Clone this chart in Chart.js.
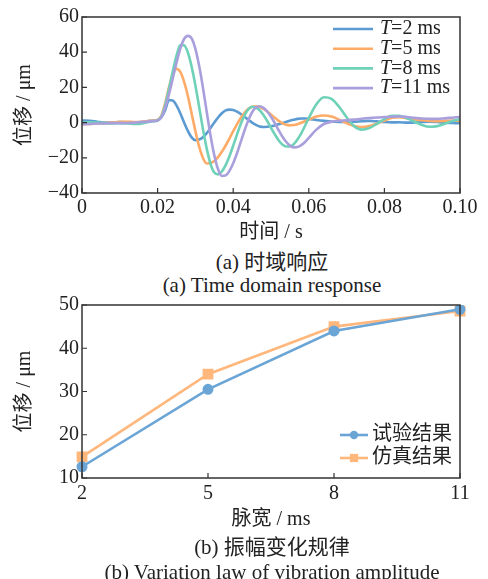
<!DOCTYPE html>
<html>
<head>
<meta charset="utf-8">
<script src="https://cdn.jsdelivr.net/npm/chart.js@4.4.0/dist/chart.umd.min.js"></script>
<style>
body{margin:0;background:#fff;width:488px;height:579px;overflow:hidden;position:relative;font-family:"Liberation Serif","Noto Sans CJK SC",serif;color:#222}
canvas{position:absolute;left:0}
.cap{position:absolute;left:0;width:544px;text-align:center;font-size:21px;line-height:24px;white-space:nowrap}
</style>
</head>
<body>
<canvas id="timeChart" width="488" height="250" style="top:0"></canvas>
<div class="cap" style="top:250px">(a) 时域响应</div>
<div class="cap" style="top:273px">(a) Time domain response</div>
<canvas id="ampChart" width="488" height="250" style="top:290px"></canvas>
<div class="cap" style="top:535px">(b) 振幅变化规律</div>
<div class="cap" style="top:560px">(b) Variation law of vibration amplitude</div>
<script>
// (a) time domain response, s / um
var timeS = [0, .002, .004, .006, .008, .010, .012, .014, .016, .018,
	.019, .020, .021, .022, .023, .024, .025, .026, .027, .028,
	.029, .030, .031, .032, .033, .034, .035, .036, .037, .038,
	.039, .040, .041, .042, .043, .044, .045, .046, .047, .048,
	.049, .050, .051, .052, .053, .054, .055, .056, .057, .058,
	.059, .060,
	.062, .064, .066, .068, .070, .072, .074, .076, .078, .080,
	.082, .084, .086, .088, .090, .092, .094, .096, .098, .100];

var dispT2 = [1.2, 1.0, 0.5, 0.0, 0.0, 0.3, 0.2, 0.0, 0.5, 1.0,
	1.2, 1.5, 3.0, 7.0, 12.8, 12.6, 9.8, 5.3, 0.1, -4.7,
	-8.4, -10.0, -9.6, -8.3, -6.0, -3.1, 0.0, 2.9, 5.3, 6.9,
	7.4, 7.1, 6.2, 4.9, 3.3, 1.6, 0.0, -1.3, -2.2, -2.5,
	-2.4, -2.1, -1.6, -1.0, -0.3, 0.4, 1.1, 1.6, 2.1, 2.3,
	2.3, 2.1,
	1.5, 1.0, 0.6, 0.4, 0.3, 0.5, 0.8, 1.0, 0.7, 0.3,
	0.1, 0.2, 0.0, 0.1, 0.4, 0.5, 0.3, 0.0, -0.2, -0.4];

var dispT5 = [-1.0, -0.8, -0.5, -0.3, 0.0, 0.5, 0.5, 0.3, 0.5, 1.0,
	1.2, 1.5, 4.0, 11.0, 20.0, 27.5, 30.5, 28.8, 23.3, 15.1,
	5.2, -4.8, -13.7, -20.1, -23.2, -23.0, -21.8, -19.6, -16.6, -13.0,
	-9.1, -4.9, -1.0, 2.6, 5.6, 7.8, 9.0, 9.3, 8.8, 7.8,
	6.3, 4.6, 2.7, 1.0, -0.3, -1.2, -1.5, -1.4, -0.9, -0.1,
	0.8, 1.7,
	3.4, 4.0, 3.4, 1.7, -0.3, -1.9, -2.5, -2.0, -0.5, 1.2,
	2.7, 3.0, 2.5, 1.8, 1.3, 1.0, 0.8, 1.0, 1.2, 1.0];

var dispT8 = [0.0, 0.2, 0.0, -0.3, -0.5, -0.3, -0.5, -0.8, -0.5, 0.5,
	0.8, 1.2, 3.5, 10.0, 19.0, 29.0, 38.0, 44.0, 43.9, 39.8,
	31.8, 21.1, 8.8, -3.7, -14.8, -23.4, -28.4, -29.4, -27.8, -24.2,
	-19.1, -13.1, -6.8, -0.8, 4.1, 7.5, 9.0, 8.6, 7.0, 4.3,
	0.9, -3.0, -6.7, -10.0, -12.4, -13.6, -13.6, -12.3, -9.6, -6.1,
	-1.8, 2.6,
	10.4, 14.4, 13.5, 9.0, 3.0, -2.0, -4.0, -3.1, -0.7, 2.0,
	3.8, 3.8, 2.5, 0.5, -1.4, -2.4, -2.0, -0.6, 0.9, 2.0];

var dispT11 = [-1.0, -0.8, -0.5, -0.5, -0.3, -0.3, -0.2, 0.0, 0.3, 0.7,
	0.9, 1.2, 3.0, 8.5, 16.0, 25.0, 34.0, 42.0, 47.5, 49.3,
	47.9, 41.9, 32.1, 19.8, 6.0, -7.3, -18.5, -26.5, -30.3, -30.0,
	-27.4, -23.1, -17.4, -11.0, -4.5, 1.3, 5.9, 8.6, 9.3, 8.4,
	6.3, 3.3, -0.3, -4.2, -7.9, -10.9, -13.1, -14.1, -13.9, -12.8,
	-11.0, -8.7,
	-4.0, -0.8, 0.5, 1.0, 1.3, 1.7, 2.2, 2.6, 2.9, 3.1,
	3.3, 3.5, 3.2, 2.7, 2.3, 2.1, 2.1, 2.4, 2.8, 3.2];

var seriesNames = ["T=2 ms", "T=5 ms", "T=8 ms", "T=11 ms"];
var seriesColors = ["#5b9bd2", "#ffab68", "#6fd2b8", "#a99fdc"];
var xTickLabels = ["0", "0.02", "0.04", "0.06", "0.08", "0.10"];

// (b) amplitude vs pulse width
var pulseWidth = ["2", "5", "8", "11"];
var testAmp = [12.6, 30.5, 44.0, 49.0];
var simAmp = [14.9, 34.0, 45.0, 48.6];

var fontFam = '"Liberation Serif", "Noto Sans CJK SC", serif';
var tickFont = {family: fontFam, size: 20};

function pts(arr) {
	return timeS.map(function(t, k) { return {x: t, y: arr[k]}; });
}

// box frame + inward ticks on bottom and left
var frameTicks = {
	id: 'frameTicks',
	afterDraw: function(chart) {
		var ctx = chart.ctx, a = chart.chartArea;
		var sx = chart.scales.x, sy = chart.scales.y;
		ctx.save();
		ctx.strokeStyle = '#333';
		ctx.lineWidth = 1.5;
		ctx.strokeRect(a.left, a.top, a.right - a.left, a.bottom - a.top);
		ctx.lineWidth = 1.2;
		ctx.beginPath();
		sx.ticks.forEach(function(t, i) {
			var px = sx.getPixelForTick(i);
			ctx.moveTo(px, a.bottom);
			ctx.lineTo(px, a.bottom - 5);
		});
		sy.ticks.forEach(function(t, i) {
			var py = sy.getPixelForTick(i);
			ctx.moveTo(a.left, py);
			ctx.lineTo(a.left + 5, py);
		});
		ctx.stroke();
		ctx.restore();
	}
};

// legend drawn inside the plot box
var boxLegend = {
	id: 'boxLegend',
	afterDraw: function(chart, args, o) {
		var ctx = chart.ctx;
		ctx.save();
		ctx.textBaseline = 'middle';
		ctx.fillStyle = '#222';
		chart.data.datasets.forEach(function(ds, i) {
			var y = o.y + i * o.row;
			ctx.strokeStyle = ds.borderColor;
			ctx.lineWidth = ds.borderWidth;
			ctx.beginPath();
			ctx.moveTo(o.x, y);
			ctx.lineTo(o.x + o.len, y);
			ctx.stroke();
			var mx = o.x + o.len / 2, r = ds.pointRadius;
			if (r) {
				ctx.fillStyle = ds.backgroundColor;
				ctx.beginPath();
				if (ds.pointStyle === 'rect') {
					var s = r * Math.SQRT1_2;
					ctx.rect(mx - s, y - s, 2 * s, 2 * s);
				} else {
					ctx.arc(mx, y, r, 0, Math.PI * 2);
				}
				ctx.fill();
				ctx.fillStyle = '#222';
			}
			var tx = o.x + o.len + o.gap, label = ds.label;
			if (o.italic && label.indexOf(o.italic) === 0) {
				ctx.font = 'italic ' + o.size + 'px ' + fontFam;
				ctx.fillText(o.italic, tx, y);
				tx += ctx.measureText(o.italic).width;
				label = label.slice(o.italic.length);
			}
			ctx.font = o.size + 'px ' + fontFam;
			ctx.fillText(label, tx, y);
		});
		ctx.restore();
	}
};

// chart a
var chart = new Chart(document.getElementById('timeChart'), {
	type: 'line',
	data: {
		datasets: [dispT2, dispT5, dispT8, dispT11].map(function(arr, i) {
			return {
				label: seriesNames[i],
				data: pts(arr),
				borderColor: seriesColors[i],
				backgroundColor: seriesColors[i],
				borderWidth: 2.6,
				order: 3 - i
			};
		})
	},
	options: {
		responsive: false,
		animation: false,
		layout: {padding: {left: 0, right: 28, top: 17, bottom: 0}},
		elements: {
			point: {radius: 0},
			line: {cubicInterpolationMode: 'monotone'}
		},
		plugins: {
			legend: {display: false},
			tooltip: {enabled: false},
			boxLegend: {x: 333, y: 29, row: 19.7, len: 40, gap: 7, size: 20, italic: 'T'}
		},
		scales: {
			x: {
				type: 'linear',
				min: 0,
				max: 0.1,
				grid: {display: false, drawTicks: false},
				border: {display: false},
				ticks: {
					stepSize: 0.02,
					padding: 3,
					maxRotation: 0,
					autoSkip: false,
					color: '#222',
					font: tickFont,
					callback: function(v, i) { return xTickLabels[i]; }
				},
				title: {display: true, text: '时间 / s', color: '#222', font: tickFont, padding: {top: 0, bottom: 5}},
				afterFit: function(s) { s.height = 57; }
			},
			y: {
				min: -40,
				max: 60,
				grid: {display: false, drawTicks: false},
				border: {display: false},
				ticks: {
					stepSize: 20,
					padding: 3,
					color: '#222',
					font: tickFont,
					callback: function(v) { return String(v).replace('-', '\u2212'); }
				},
				title: {display: true, text: '位移 / μm', color: '#222', font: tickFont, padding: {top: 13, bottom: 0}},
				afterFit: function(s) { s.width = 82; }
			}
		}
	},
	plugins: [frameTicks, boxLegend]
});

// chart b
var chart2 = new Chart(document.getElementById('ampChart'), {
	type: 'line',
	data: {
		labels: pulseWidth,
		datasets: [{
			label: '试验结果',
			data: testAmp,
			borderColor: '#6aa5d6',
			backgroundColor: '#6aa5d6',
			borderWidth: 2.6,
			pointStyle: 'circle',
			pointRadius: 4.2
		}, {
			label: '仿真结果',
			data: simAmp,
			borderColor: '#ffb77c',
			backgroundColor: '#ffb77c',
			borderWidth: 2.6,
			pointStyle: 'rect',
			pointRadius: 5.8
		}]
	},
	options: {
		responsive: false,
		animation: false,
		layout: {padding: {left: 0, right: 28, top: 15, bottom: 0}},
		elements: {point: {borderWidth: 0}},
		plugins: {
			legend: {display: false},
			tooltip: {enabled: false},
			boxLegend: {x: 340, y: 145, row: 23, len: 28, gap: 4, size: 20}
		},
		scales: {
			x: {
				offset: false,
				grid: {display: false, drawTicks: false},
				border: {display: false},
				ticks: {padding: 4, maxRotation: 0, color: '#222', font: tickFont},
				title: {display: true, text: '脉宽 / ms', color: '#222', font: tickFont, padding: {top: 0, bottom: 8}},
				afterFit: function(s) { s.height = 62; }
			},
			y: {
				min: 10,
				max: 50,
				grid: {display: false, drawTicks: false},
				border: {display: false},
				ticks: {stepSize: 10, padding: 3, color: '#222', font: tickFont},
				title: {display: true, text: '位移 / μm', color: '#222', font: tickFont, padding: {top: 13, bottom: 0}},
				afterFit: function(s) { s.width = 82; }
			}
		}
	},
	plugins: [frameTicks, boxLegend]
});
</script>
</body>
</html>
